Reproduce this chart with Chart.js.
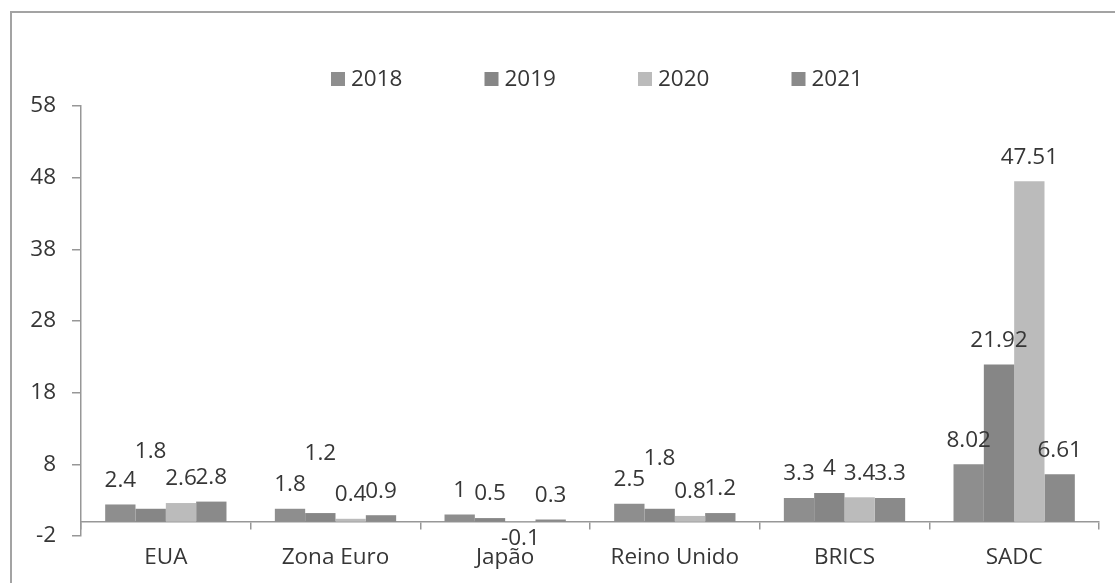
<!DOCTYPE html>
<html>
<head>
<meta charset="utf-8">
<script src="https://cdn.jsdelivr.net/npm/chart.js@4.4.1/dist/chart.umd.min.js"></script>
<style>
  html, body { margin: 0; padding: 0; background: #ffffff; overflow: hidden; }
  #wrap { position: relative; width: 1115px; height: 583px; overflow: hidden; background: #fff; }
  #frame { position: absolute; left: 10px; top: 11px; width: 1300px; height: 800px; border: 2px solid #a3a3a3; box-sizing: border-box; }
  canvas { position: absolute; left: 0; top: 0; }
</style>
</head>
<body>
<div id="wrap">
  <div id="frame"></div>
  <canvas id="c" width="1115" height="583"></canvas>
</div>
<script>
// ---- data ----
const categories = ['EUA', 'Zona Euro', 'Japão', 'Reino Unido', 'BRICS', 'SADC'];
const seriesNames = ['2018', '2019', '2020', '2021'];
const values2018 = [2.4, 1.8, 1, 2.5, 3.3, 8.02];
const values2019 = [1.8, 1.2, 0.5, 1.8, 4, 21.92];
const values2020 = [2.6, 0.4, -0.1, 0.8, 3.4, 47.51];
const values2021 = [2.8, 0.9, 0.3, 1.2, 3.3, 6.61];
const yTickValues = [-2, 8, 18, 28, 38, 48, 58];

const seriesColors = ['#8e8e8e', '#868686', '#bbbbbb', '#8a8a8a'];
const textColor = '#363636';
const axisColor = '#979797';
const FONT = "'Open Sans', 'Liberation Sans', sans-serif";
const FSIZE = 22.5;

const allValues = [values2018, values2019, values2020, values2021];

const datasets = seriesNames.map((name, i) => ({
  label: name,
  data: allValues[i],
  backgroundColor: seriesColors[i],
  borderWidth: 0,
  categoryPercentage: 0.715,
  barPercentage: 1.0
}));

// data labels (Excel-like, with a few labels lifted as in the original)
const labelPlugin = {
  id: 'barLabels',
  afterDatasetsDraw(chart, args, opts) {
    const ctx = chart.ctx;
    ctx.save();
    ctx.font = FSIZE + 'px ' + FONT;
    ctx.fillStyle = textColor;
    ctx.textAlign = 'center';
    ctx.textBaseline = 'middle';
    chart.data.datasets.forEach((ds, di) => {
      const meta = chart.getDatasetMeta(di);
      meta.data.forEach((el, i) => {
        const v = ds.data[i];
        const lift = (opts.lift[di] && opts.lift[di][i]) || 0;
        let y;
        if (v >= 0) y = el.y - opts.gap - lift;
        else y = el.y + opts.belowGap;
        ctx.fillText(String(v), el.x, y);
      });
    });
    ctx.restore();
  }
};

// legend drawn from datasets
const legendPlugin = {
  id: 'customLegend',
  afterDraw(chart, args, opts) {
    const ctx = chart.ctx;
    ctx.save();
    ctx.font = FSIZE + 'px ' + FONT;
    ctx.textBaseline = 'middle';
    ctx.textAlign = 'left';
    chart.data.datasets.forEach((ds, i) => {
      const x = opts.left + i * opts.spacing;
      ctx.fillStyle = ds.backgroundColor;
      ctx.fillRect(x, opts.y - 7, 14, 14);
      ctx.fillStyle = textColor;
      ctx.fillText(ds.label, x + 20, opts.y + 1);
    });
    ctx.restore();
  }
};

new Chart(document.getElementById('c'), {
  type: 'bar',
  data: { labels: categories, datasets },
  options: {
    responsive: false,
    animation: false,
    devicePixelRatio: 1,
    layout: { padding: { left: 0, right: 16, top: 106, bottom: 47 } },
    plugins: {
      legend: { display: false },
      tooltip: { enabled: false },
      barLabels: { gap: 24, belowGap: 16, lift: { 1: { 0: 33, 1: 35, 3: 26 } } },
      customLegend: { left: 331, spacing: 153.5, y: 79 }
    },
    scales: {
      x: {
        type: 'category',
        position: { y: 0 },
        grid: { display: true, drawOnChartArea: false, tickLength: 7, color: axisColor, lineWidth: 1.5, offset: true },
        border: { display: true, color: axisColor, width: 1.5 },
        ticks: { font: { family: FONT, size: FSIZE }, color: textColor, padding: 15, autoSkip: false, maxRotation: 0 }
      },
      y: {
        type: 'linear',
        min: -2,
        max: 58,
        afterBuildTicks(scale) { scale.ticks = yTickValues.map(v => ({ value: v })); },
        afterFit(scale) { scale.width = 81; },
        grid: { display: true, drawOnChartArea: false, tickLength: 9, color: axisColor, lineWidth: 1.5 },
        border: { display: true, color: axisColor, width: 1.5 },
        ticks: { font: { family: FONT, size: FSIZE }, color: textColor, padding: 16 }
      }
    }
  },
  plugins: [labelPlugin, legendPlugin]
});
</script>
</body>
</html>
